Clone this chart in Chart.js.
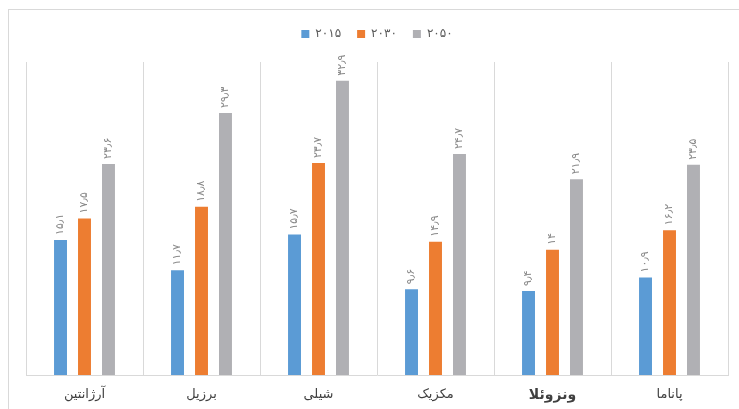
<!DOCTYPE html>
<html lang="fa">
<head>
<meta charset="utf-8">
<script src="https://cdn.jsdelivr.net/npm/chart.js@4/dist/chart.umd.min.js"></script>
<style>
    html, body { margin: 0; padding: 0; background: #fff; overflow: hidden; }
    #wrap { position: relative; width: 739px; height: 409px; }
    #frame { position: absolute; left: 8px; top: 9px; width: 800px; height: 500px; border: 1px solid #d9d9d9; }
    #chart { position: absolute; left: 0; top: 0; }
</style>
</head>
<body>
<div id="wrap">
    <div id="frame"></div>
    <canvas id="chart" width="739" height="409"></canvas>
</div>
<script>
// --- DADOS ---
const countries = ['آرژانتین', 'برزیل', 'شیلی', 'مکزیک', 'ونزوئلا', 'پاناما'];
const years = ['۲۰۱۵', '۲۰۳۰', '۲۰۵۰'];
const v2015 = [15.1, 11.7, 15.7, 9.6, 9.4, 10.9];
const v2030 = [17.5, 18.8, 23.7, 14.9, 14, 16.2];
const v2050 = [23.6, 29.3, 32.9, 24.7, 21.9, 23.5];
const colors = ['#5b9bd5', '#ed7d31', '#b0b0b4'];

// 15.1 -> ۱۵٫۱
function faNum(v) {
    const digits = '۰۱۲۳۴۵۶۷۸۹';
    return String(v).replace(/\d/g, d => digits[d]).replace('.', '٫');
}

// rotated value labels above each bar
const valueLabels = {
    id: 'valueLabels',
    afterDatasetsDraw(chart) {
        const ctx = chart.ctx;
        ctx.save();
        ctx.font = '11px "DejaVu Sans", sans-serif';
        ctx.fillStyle = '#8a8a8a';
        ctx.textAlign = 'left';
        ctx.textBaseline = 'middle';
        chart.data.datasets.forEach((ds, i) => {
            chart.getDatasetMeta(i).data.forEach((bar, j) => {
                ctx.save();
                ctx.translate(bar.x, bar.y - 5);
                ctx.rotate(-Math.PI / 2);
                ctx.fillText(faNum(ds.data[j]), 0, 0);
                ctx.restore();
            });
        });
        ctx.restore();
    }
};

// extra gap between legend and plot
const legendGap = {
    id: 'legendGap',
    beforeInit(chart) {
        const fit = chart.legend.fit;
        chart.legend.fit = function () {
            fit.bind(chart.legend)();
            this.height += 12;
        };
    }
};

const series = [v2015, v2030, v2050];

new Chart(document.getElementById('chart'), {
    type: 'bar',
    data: {
        labels: countries,
        datasets: series.map((d, i) => ({
            label: years[i],
            data: d,
            backgroundColor: colors[i],
            categoryPercentage: 0.615,
            barPercentage: 0.54
        }))
    },
    options: {
        responsive: false,
        animation: false,
        layout: { padding: { left: 26, right: 11, top: 12, bottom: 0 } },
        plugins: {
            legend: {
                position: 'top',
                labels: {
                    boxWidth: 8, boxHeight: 8, padding: 16,
                    color: '#595959',
                    font: { size: 12, family: '"DejaVu Sans", sans-serif' }
                }
            },
            tooltip: { enabled: false }
        },
        scales: {
            x: {
                afterFit(scale) { scale.height = 34; },
                grid: { display: true, offset: true, color: '#d9d9d9', drawTicks: false },
                border: { display: true, color: '#d9d9d9' },
                ticks: {
                    padding: 12,
                    color: '#404040',
                    font: ctx => ({
                        size: ctx.index === 4 ? 14 : 13,
                        weight: ctx.index === 4 ? 'bold' : 'normal',
                        family: '"DejaVu Sans", sans-serif'
                    })
                }
            },
            y: { display: false, min: 0, max: 35 }
        }
    },
    plugins: [valueLabels, legendGap]
});
</script>
</body>
</html>
